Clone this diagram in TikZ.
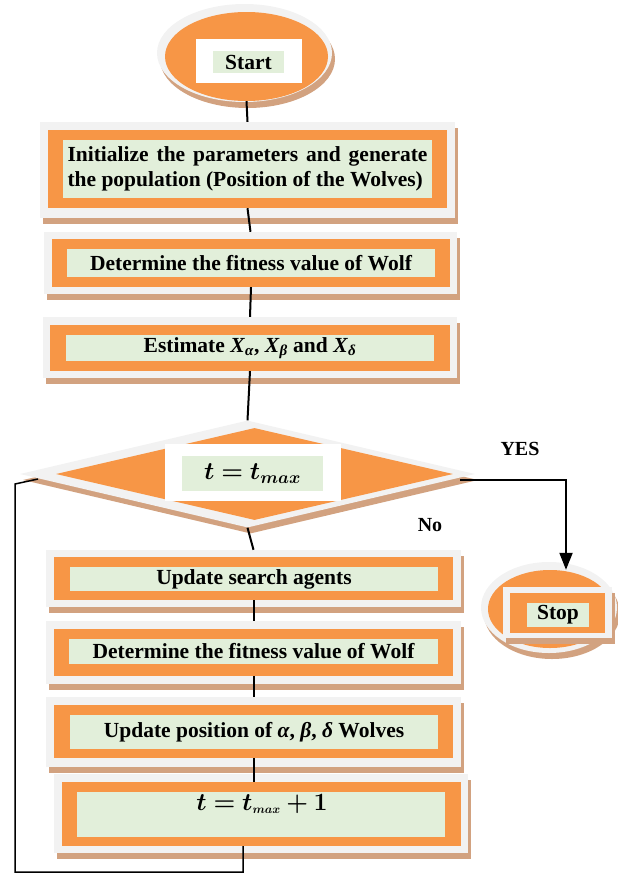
\documentclass[tikz,border=0pt]{standalone}
\usepackage{fontspec}
\setmainfont{Liberation Serif}
\usepackage{amsmath,bm}
\usetikzlibrary{shapes.geometric,shadows,arrows.meta,calc}

\definecolor{wolforange}{RGB}{247,150,70}
\definecolor{wolfgreen}{RGB}{226,239,218}
\definecolor{wolfgray}{RGB}{242,242,242}
\definecolor{wolftan}{RGB}{210,162,128}

\tikzset{
  rimbox/.style={fill=wolfgray, inner sep=0pt,
    general shadow={fill=wolftan, shadow xshift=3pt, shadow yshift=-6pt}},
  fillbox/.style={fill=wolforange, inner sep=0pt},
  labelbox/.style={fill=wolfgreen, inner sep=0pt, font=\fontsize{21.5}{25}\selectfont\bfseries},
  mathtext/.style={font=\fontsize{24}{28}\selectfont},
  link/.style={line width=2pt},
  backline/.style={line width=1.5pt},
}

\begin{document}
\begin{tikzpicture}[x=1pt,y=-1pt]
\useasboundingbox (0,0) rectangle (618,873);

  % Start
  \node[rimbox, ellipse, minimum width=175pt, minimum height=98pt] (gs) at (244.5,53) {};
  \node[fillbox, ellipse, minimum width=163pt, minimum height=89pt] (os) at (246.5,56.5) {};
  \node[fill=white, minimum width=106pt, minimum height=44pt] (ws) at (249,61) {};
  \node[labelbox, minimum width=71pt, minimum height=22pt] (ts) at (248.5,62) {Start};

  % Initialize
  \node[rimbox, minimum width=415pt, minimum height=96pt] (g1) at (247.5,170) {};
  \node[fillbox, minimum width=399pt, minimum height=78pt] (o1) at (247.5,169) {};
  \node[labelbox, minimum width=369pt, minimum height=58pt, align=left] (t1) at (247.5,169)
    {\makebox[360pt][s]{Initialize the parameters and generate}\\the population (Position of the Wolves)};

  % Fitness
  \node[rimbox, minimum width=413pt, minimum height=62pt] (g2) at (250.5,263) {};
  \node[fillbox, minimum width=398pt, minimum height=48pt] (o2) at (251,263) {};
  \node[labelbox, minimum width=368pt, minimum height=28pt] (t2) at (251,263)
    {Determine the fitness value of Wolf};

  % Estimate
  \node[rimbox, minimum width=414pt, minimum height=61pt] (g3) at (250,347.5) {};
  \node[fillbox, minimum width=400pt, minimum height=46pt] (o3) at (250,348) {};
  \node[labelbox, minimum width=368pt, minimum height=26pt] (t3) at (250,348)
    {Estimate \textit{X}\textsubscript{\textit{α}}, \textit{X}\textsubscript{\textit{β}} and \textit{X}\textsubscript{\textit{δ}}};

  % Decision
  \node[rimbox, diamond, minimum width=455pt, minimum height=107pt] (gd) at (247.5,474) {};
  \node[fillbox, diamond, minimum width=397pt, minimum height=92pt] (od) at (254.5,474) {};
  \node[fill=white, minimum width=176pt, minimum height=57pt] (wd) at (253,472.5) {};
  \node[labelbox, mathtext, minimum width=141pt, minimum height=35pt] (td) at (252.5,473.5) {$\bm{t = t_{max}}$};

  \node[font=\fontsize{20}{24}\selectfont\bfseries] (yes) at (520,449) {YES};
  \node[font=\fontsize{20}{24}\selectfont\bfseries] (no) at (430,525) {No};

  % Update agents
  \node[rimbox, minimum width=415pt, minimum height=57pt] (g4) at (253.5,578.5) {};
  \node[fillbox, minimum width=399pt, minimum height=43pt] (o4) at (253.5,578.5) {};
  \node[labelbox, minimum width=368pt, minimum height=24pt] (t4) at (254,579)
    {Update search agents};

  % Fitness again
  \node[rimbox, minimum width=415pt, minimum height=63pt] (g5) at (253.5,652.5) {};
  \node[fillbox, minimum width=399pt, minimum height=47pt] (o5) at (253.5,652.5) {};
  \node[labelbox, minimum width=369pt, minimum height=25pt] (t5) at (253.5,651.5)
    {Determine the fitness value of Wolf};

  % Update positions
  \node[rimbox, minimum width=415pt, minimum height=70pt] (g6) at (253.5,732) {};
  \node[fillbox, minimum width=399pt, minimum height=53pt] (o6) at (253.5,731.5) {};
  \node[labelbox, minimum width=368pt, minimum height=34pt] (t6) at (254,732)
    {Update position of \textit{α}, \textit{β}, \textit{δ} Wolves};

  % Counter
  \node[rimbox, minimum width=414pt, minimum height=79pt] (g7) at (261,813.5) {};
  \node[fillbox, minimum width=399pt, minimum height=64pt] (o7) at (261.5,814) {};
  \node[labelbox, minimum width=368pt, minimum height=45pt] (t7) at (261,814.5) {};
  \node[mathtext] (tx7) at (262,804) {$\bm{t = t_{\scriptscriptstyle max} + 1}$};

  % Stop
  \node[rimbox, ellipse, minimum width=136pt, minimum height=91pt] (gs2) at (549,607.5) {};
  \node[fillbox, ellipse, minimum width=124pt, minimum height=78pt] (oe) at (550,609) {};
  \node[rimbox, minimum width=109pt, minimum height=51pt] (gt) at (557.5,612.5) {};
  \node[fillbox, minimum width=95pt, minimum height=40pt] (ot) at (557.5,613) {};
  \node[labelbox, minimum width=62pt, minimum height=24pt] (tt) at (558,615) {Stop};

  % Connectors
  \draw[link] (os.south) -- (g1.north);
  \draw[link] (o1.south) -- (g2.north);
  \draw[link] (o2.south) -- (g3.north);
  \draw[link] (o3.south) -- (gd.north);
  \draw[link] (gd.south) -- (g4.north);
  \draw[link] (o4.south) -- (g5.north);
  \draw[link] (o5.south) -- (g6.north);
  \draw[link] (o6.south) -- (o6.south |- o7.north);

  \coordinate (dr) at (460,480);
  \coordinate (yc) at (566,480);
  \draw[link, -{Triangle[length=17pt,width=13pt]}] (dr) -- (yc) -- (yc |- oe.north);

  \coordinate (dl) at (38,479);
  \coordinate (lc) at (15,484);
  \coordinate (lb) at (15,872);
  \coordinate (la) at (243,872);
  \draw[backline] (o7.south -| la) -- (la) -- (lb) -- (lc) -- (dl);
\end{tikzpicture}
\end{document}
